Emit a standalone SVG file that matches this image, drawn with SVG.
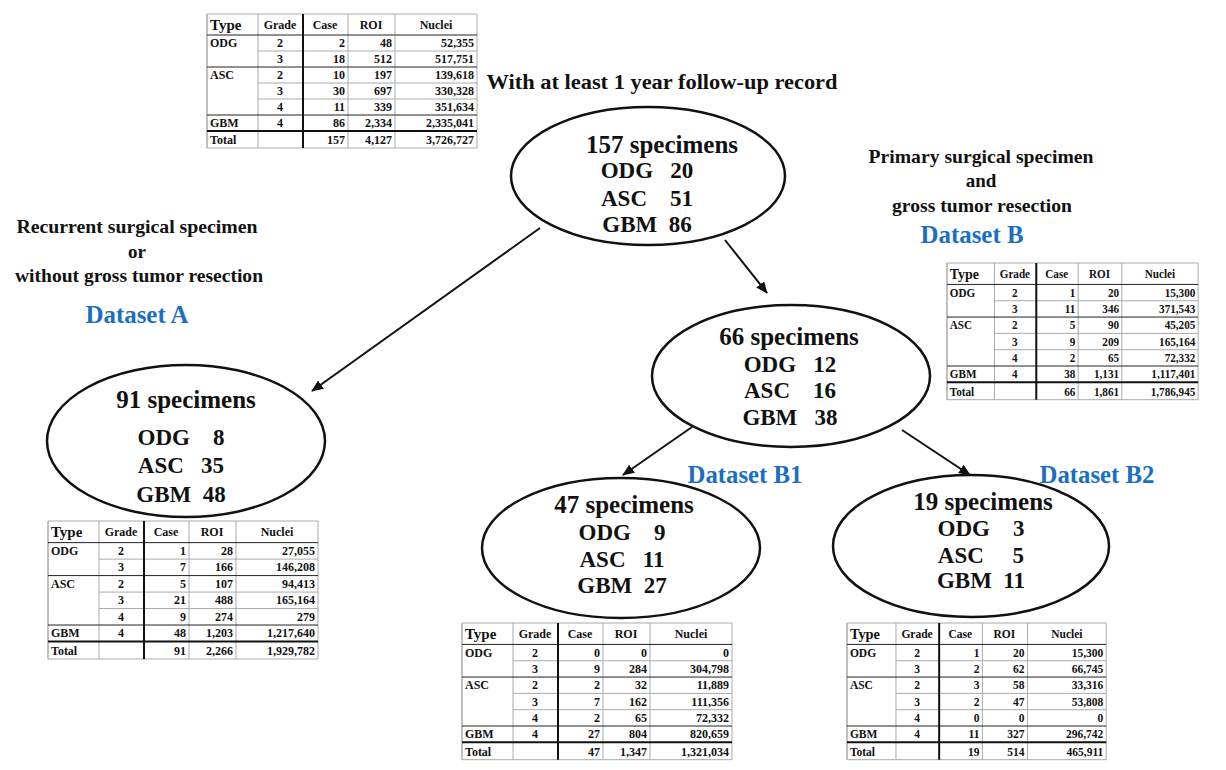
<svg xmlns="http://www.w3.org/2000/svg" width="1226" height="770" viewBox="0 0 1226 770">
<style>
.t{font-family:"Liberation Serif",serif;font-weight:bold;fill:#111}
.n{font-size:25px;text-anchor:middle}
.s{font-size:23px;text-anchor:middle}
.l{font-size:19px;text-anchor:middle}
.ds{font-family:"Liberation Serif",serif;font-weight:bold;font-size:25px;fill:#1a6fc4;text-anchor:middle}
.tb{font-family:"Liberation Serif",serif;font-weight:bold;font-size:12px;fill:#111}
.r{text-anchor:end}.c{text-anchor:middle}
.g{stroke:#aaa;stroke-width:1;vector-effect:non-scaling-stroke}
.k{stroke:#222;stroke-width:1;vector-effect:non-scaling-stroke}
.K{stroke:#111;stroke-width:2;vector-effect:non-scaling-stroke}
ellipse{fill:#fff;stroke:#111;stroke-width:2.5}
.a{stroke:#111;stroke-width:2;fill:none;marker-end:url(#ar)}
</style>
<defs>
<marker id="ar" markerWidth="12" markerHeight="10" refX="11" refY="5" orient="auto" markerUnits="userSpaceOnUse"><path d="M0,0 L12,5 L0,10 Z" fill="#111"/></marker>
<g id="grid">
<rect x="0" y="0" width="270" height="134" fill="#fff" class="g"/>
<path class="g" d="M51,37H270M51,69H270M51,85H270M0,0V134M51,0V134M141,0V134M188,0V134"/>
<path class="k" d="M0,21H270M0,53H270M0,101H270"/>
<path class="K" d="M0,117H270M96,0V134"/>
<g class="tb">
<text x="3" y="16" style="font-size:15px">Type</text><text x="73" y="15" class="c">Grade</text><text x="118" y="15" class="c">Case</text><text x="164" y="15" class="c">ROI</text><text x="229" y="15" class="c">Nuclei</text>
<text x="3" y="33">ODG</text><text x="3" y="65">ASC</text><text x="3" y="113">GBM</text><text x="3" y="130">Total</text>
<text x="73" y="33" class="c">2</text><text x="73" y="49" class="c">3</text><text x="73" y="65" class="c">2</text><text x="73" y="81" class="c">3</text><text x="73" y="97" class="c">4</text><text x="73" y="113" class="c">4</text>
</g>
</g>
</defs>

<g id="labels" class="t">
<text x="662" y="89" style="font-size:20px;text-anchor:middle" textLength="351" lengthAdjust="spacingAndGlyphs">With at least 1 year follow-up record</text>
<text x="137" y="233" class="l" textLength="241" lengthAdjust="spacingAndGlyphs">Recurrent surgical specimen</text>
<text x="137" y="258" class="l">or</text>
<text x="139" y="282" class="l" textLength="248" lengthAdjust="spacingAndGlyphs">without gross tumor resection</text>
<text x="981" y="163" class="l" textLength="225" lengthAdjust="spacingAndGlyphs">Primary surgical specimen</text>
<text x="981" y="187" class="l">and</text>
<text x="982" y="212" class="l" textLength="180" lengthAdjust="spacingAndGlyphs">gross tumor resection</text>
</g>
<text class="ds" x="137" y="323" textLength="103" lengthAdjust="spacingAndGlyphs">Dataset A</text>
<text class="ds" x="972" y="243" textLength="103" lengthAdjust="spacingAndGlyphs">Dataset B</text>
<text class="ds" x="745" y="483" textLength="115" lengthAdjust="spacingAndGlyphs">Dataset B1</text>
<text class="ds" x="1097" y="483" textLength="115" lengthAdjust="spacingAndGlyphs">Dataset B2</text>

<g id="connectors">
<path class="a" d="M540,228 L312,391"/>
<path class="a" d="M725,240 L767,293"/>
<path class="a" d="M692,427 L623,475"/>
<path class="a" d="M902,430 L970,475"/>
</g>

<g id="n157" class="t"><ellipse cx="648" cy="176" rx="137" ry="69"/>
<text x="662" y="153" class="n">157 specimens</text>
<text x="647" y="178" class="s" xml:space="preserve">ODG   20</text>
<text x="647" y="206" class="s" xml:space="preserve">ASC    51</text>
<text x="647" y="232" class="s" xml:space="preserve">GBM  86</text></g>

<g id="n91" class="t"><ellipse cx="186" cy="441" rx="139" ry="76"/>
<text x="186" y="408" class="n">91 specimens</text>
<text x="181" y="445" class="s" xml:space="preserve">ODG    8</text>
<text x="181" y="473" class="s" xml:space="preserve">ASC   35</text>
<text x="181" y="502" class="s" xml:space="preserve">GBM  48</text></g>

<g id="n66" class="t"><ellipse cx="791" cy="376" rx="139" ry="71"/>
<text x="789" y="345" class="n">66 specimens</text>
<text x="790" y="372" class="s" xml:space="preserve">ODG   12</text>
<text x="790" y="398" class="s" xml:space="preserve">ASC    16</text>
<text x="790" y="425" class="s" xml:space="preserve">GBM   38</text></g>

<g id="n47" class="t"><ellipse cx="621" cy="548" rx="139" ry="70"/>
<text x="624" y="513" class="n">47 specimens</text>
<text x="622" y="540" class="s" xml:space="preserve">ODG    9</text>
<text x="622" y="567" class="s" xml:space="preserve">ASC   11</text>
<text x="622" y="593" class="s" xml:space="preserve">GBM  27</text></g>

<g id="n19" class="t"><ellipse cx="971" cy="546" rx="138" ry="71"/>
<text x="983" y="510" class="n">19 specimens</text>
<text x="981" y="536" class="s" xml:space="preserve">ODG    3</text>
<text x="981" y="563" class="s" xml:space="preserve">ASC     5</text>
<text x="981" y="588" class="s" xml:space="preserve">GBM  11</text></g>

<g id="tableAll" transform="translate(207,14)"><use href="#grid"/>
<g class="tb r"><text x="138" y="33">2</text><text x="138" y="49">18</text><text x="138" y="65">10</text><text x="138" y="81">30</text><text x="138" y="97">11</text><text x="138" y="113">86</text><text x="138" y="130">157</text>
<text x="185" y="33">48</text><text x="185" y="49">512</text><text x="185" y="65">197</text><text x="185" y="81">697</text><text x="185" y="97">339</text><text x="185" y="113">2,334</text><text x="185" y="130">4,127</text>
<text x="267" y="33">52,355</text><text x="267" y="49">517,751</text><text x="267" y="65">139,618</text><text x="267" y="81">330,328</text><text x="267" y="97">351,634</text><text x="267" y="113">2,335,041</text><text x="267" y="130">3,726,727</text></g></g>

<g id="tableB" transform="translate(947,263) scale(0.93,1.02)"><use href="#grid"/>
<g class="tb r"><text x="138" y="33">1</text><text x="138" y="49">11</text><text x="138" y="65">5</text><text x="138" y="81">9</text><text x="138" y="97">2</text><text x="138" y="113">38</text><text x="138" y="130">66</text>
<text x="185" y="33">20</text><text x="185" y="49">346</text><text x="185" y="65">90</text><text x="185" y="81">209</text><text x="185" y="97">65</text><text x="185" y="113">1,131</text><text x="185" y="130">1,861</text>
<text x="267" y="33">15,300</text><text x="267" y="49">371,543</text><text x="267" y="65">45,205</text><text x="267" y="81">165,164</text><text x="267" y="97">72,332</text><text x="267" y="113">1,117,401</text><text x="267" y="130">1,786,945</text></g></g>

<g id="tableA" transform="translate(48,521) scale(1.0,1.03)"><use href="#grid"/>
<g class="tb r"><text x="138" y="33">1</text><text x="138" y="49">7</text><text x="138" y="65">5</text><text x="138" y="81">21</text><text x="138" y="97">9</text><text x="138" y="113">48</text><text x="138" y="130">91</text>
<text x="185" y="33">28</text><text x="185" y="49">166</text><text x="185" y="65">107</text><text x="185" y="81">488</text><text x="185" y="97">274</text><text x="185" y="113">1,203</text><text x="185" y="130">2,266</text>
<text x="267" y="33">27,055</text><text x="267" y="49">146,208</text><text x="267" y="65">94,413</text><text x="267" y="81">165,164</text><text x="267" y="97">279</text><text x="267" y="113">1,217,640</text><text x="267" y="130">1,929,782</text></g></g>

<g id="tableB1" transform="translate(462,623) scale(1.0,1.02)"><use href="#grid"/>
<g class="tb r"><text x="138" y="33">0</text><text x="138" y="49">9</text><text x="138" y="65">2</text><text x="138" y="81">7</text><text x="138" y="97">2</text><text x="138" y="113">27</text><text x="138" y="130">47</text>
<text x="185" y="33">0</text><text x="185" y="49">284</text><text x="185" y="65">32</text><text x="185" y="81">162</text><text x="185" y="97">65</text><text x="185" y="113">804</text><text x="185" y="130">1,347</text>
<text x="267" y="33">0</text><text x="267" y="49">304,798</text><text x="267" y="65">11,889</text><text x="267" y="81">111,356</text><text x="267" y="97">72,332</text><text x="267" y="113">820,659</text><text x="267" y="130">1,321,034</text></g></g>

<g id="tableB2" transform="translate(847,623) scale(0.96,1.02)"><use href="#grid"/>
<g class="tb r"><text x="138" y="33">1</text><text x="138" y="49">2</text><text x="138" y="65">3</text><text x="138" y="81">2</text><text x="138" y="97">0</text><text x="138" y="113">11</text><text x="138" y="130">19</text>
<text x="185" y="33">20</text><text x="185" y="49">62</text><text x="185" y="65">58</text><text x="185" y="81">47</text><text x="185" y="97">0</text><text x="185" y="113">327</text><text x="185" y="130">514</text>
<text x="267" y="33">15,300</text><text x="267" y="49">66,745</text><text x="267" y="65">33,316</text><text x="267" y="81">53,808</text><text x="267" y="97">0</text><text x="267" y="113">296,742</text><text x="267" y="130">465,911</text></g></g>
</svg>
